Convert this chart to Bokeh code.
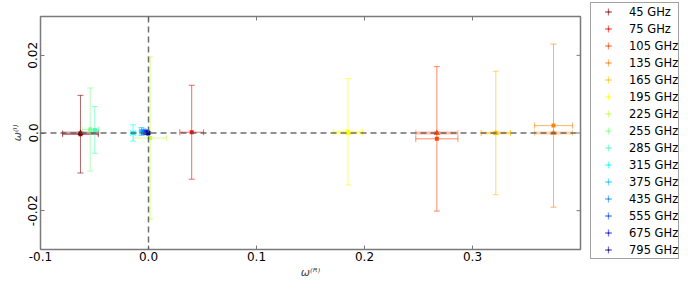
from bokeh.plotting import figure
from bokeh.models import (ColumnDataSource, Whisker, TeeHead, Span, Legend, LegendItem,
                          FixedTicker, Range1d)
from bokeh.embed import file_html
from bokeh.resources import INLINE

# ---------------- data ----------------
freq_labels = ["45 GHz", "75 GHz", "105 GHz", "135 GHz", "165 GHz", "195 GHz", "225 GHz",
               "255 GHz", "285 GHz", "315 GHz", "375 GHz", "435 GHz", "555 GHz",
               "675 GHz", "795 GHz"]

# estimated points (one per frequency)
est_x = [-0.063, 0.040, 0.267, 0.375, 0.3216, 0.1847, 0.0015,
         -0.054, -0.0497, -0.0143, -0.0065, -0.0045, -0.0025, -0.0010, -0.0002]
est_y = [-0.0003, 0.0002, -0.0015, 0.0019, 0.0, 0.0003, -0.0013,
         0.0009, 0.0008, 0.0, 0.0004, 0.0003, 0.0002, 0.0001, 0.0]
est_xerr = [0.0165, 0.0110, 0.0195, 0.0176, 0.0136, 0.0136, 0.0153,
            0.0074, 0.0040, 0.0025, 0.0020, 0.0020, 0.0015, 0.0010, 0.0008]
est_yerr = [0.0100, 0.0121, 0.0186, 0.0210, 0.0159, 0.0137, 0.0209,
            0.0107, 0.0060, 0.0021, 0.0010, 0.0007, 0.0005, 0.0003, 0.0002]

# reference points lying on the omega_I = 0 line
ref_freq = ["45 GHz", "105 GHz", "135 GHz", "165 GHz", "195 GHz"]
ref_x = [-0.063, 0.267, 0.375, 0.3216, 0.1847]
ref_y = [0.0, 0.0, 0.0, 0.0, 0.0]
ref_xerr = [0.0165, 0.0195, 0.0176, 0.0136, 0.0136]
ref_yerr = [0.0003, 0.0003, 0.0003, 0.0003, 0.0003]

x_limits = [-0.1, 0.4]
y_limits = [-0.03, 0.03]
x_ticks = [-0.1, 0.0, 0.1, 0.2, 0.3]
x_tick_labels = ["-0.1", "0.0", "0.1", "0.2", "0.3"]
y_ticks = [-0.02, 0.0, 0.02]
y_tick_labels = ["-0.02", "0.0", "0.02"]

# ---------------- style ----------------
colors = ["#800000", "#ff0000", "#ff4000", "#ff8000", "#ffbf00", "#ffff00", "#bfff40",
          "#80ff80", "#40ffbf", "#00ffff", "#00bfff", "#0080ff", "#0040ff",
          "#0000ff", "#00008b"]
color_of = dict(zip(freq_labels, colors))
FRAME = "#7a7a7a"

p = figure(frame_width=540, frame_height=233,
           x_range=Range1d(*x_limits), y_range=Range1d(*y_limits),
           output_backend="svg", toolbar_location=None,
           min_border_left=40, min_border_right=108, min_border_top=16, min_border_bottom=40)
p.xgrid.visible = False
p.ygrid.visible = False
p.outline_line_color = FRAME
p.outline_line_width = 1.5
p.background_fill_color = "white"

xa = p.xaxis[0]
ya = p.yaxis[0]
for ax, ticks, labels in ((xa, x_ticks, x_tick_labels), (ya, y_ticks, y_tick_labels)):
    ax.ticker = FixedTicker(ticks=ticks)
    ax.major_label_overrides = {t: l for t, l in zip(ticks, labels)}
    ax.major_tick_in = 4
    ax.major_tick_out = 0
    ax.major_tick_line_color = FRAME
    ax.minor_tick_line_color = None
    ax.axis_line_color = None
    ax.major_label_text_font = "DejaVu Sans"
    ax.major_label_text_color = "black"
    ax.major_label_text_font_size = "12px"
    ax.axis_label_text_font = "DejaVu Sans"
    ax.axis_label_text_font_style = "italic"
    ax.axis_label_text_font_size = "11px"
    ax.axis_label_standoff = 2
xa.major_label_standoff = 2
ya.major_label_standoff = 3
ya.major_label_orientation = "vertical"
xa.axis_label = "ω⁽ᴿ⁾"
ya.axis_label = "ω⁽ᴵ⁾"

# inward tick marks on the top and right frame edges
p.scatter(x=x_ticks, y=[y_limits[1]] * len(x_ticks), marker="dash", angle=1.5708,
          size=8, line_color=FRAME, line_width=1)
p.scatter(x=[x_limits[1]] * len(y_ticks), y=y_ticks, marker="dash",
          size=8, line_color=FRAME, line_width=1)


def draw_point(x, y, xe, ye, c, bar_alpha, bar_width, marker, msize):
    src = ColumnDataSource(dict(x=[x], y=[y], xl=[x - xe], xu=[x + xe],
                                yl=[y - ye], yu=[y + ye]))
    for dim, base, lo, hi in (("height", "x", "yl", "yu"), ("width", "y", "xl", "xu")):
        w = Whisker(source=src, base=base, lower=lo, upper=hi, dimension=dim,
                    line_color=c, line_alpha=bar_alpha,
                    line_width=(bar_width if dim == "width" else 1),
                    upper_head=TeeHead(size=6, line_color=c, line_alpha=bar_alpha, line_width=1),
                    lower_head=TeeHead(size=6, line_color=c, line_alpha=bar_alpha, line_width=1))
        p.add_layout(w)
    p.scatter("x", "y", source=src, marker=marker, size=msize, fill_color=c,
              line_color=None, fill_alpha=0.95)
    return src


# reference points (thick translucent bars)
for f, x, y, xe, ye in zip(ref_freq, ref_x, ref_y, ref_xerr, ref_yerr):
    draw_point(x, y, xe, ye, color_of[f], 0.35, 3, "triangle", 6)

# estimated points; zero-size markers on the same data serve as legend glyphs
items = []
for f, x, y, xe, ye in zip(freq_labels, est_x, est_y, est_xerr, est_yerr):
    c = color_of[f]
    src = draw_point(x, y, xe, ye, c, 0.6, 1, "square", 4)
    rc = p.scatter("x", "y", source=src, marker="cross", size=0, line_color=c,
                   line_alpha=0.55, line_width=1.3)
    rd = p.scatter("x", "y", source=src, marker="dot", size=0, line_color=c,
                   fill_color=c, line_alpha=1.0, line_width=1.5)
    items.append(LegendItem(label=f, renderers=[rc, rd]))

# dashed zero lines
for dim in ("width", "height"):
    p.add_layout(Span(location=0, dimension=dim, line_color="#555555", line_alpha=0.85,
                      line_dash="6 4", line_width=1.5))

legend = Legend(items=items, location=(10, -10), orientation="vertical",
                label_text_font="DejaVu Sans", label_text_font_size="11.5px",
                label_text_color="black", label_text_align="right",
                glyph_width=34, glyph_height=17, label_height=17, spacing=0,
                padding=0, margin=0, label_standoff=4,
                border_line_color="#444444", border_line_width=1,
                background_fill_color="white", background_fill_alpha=1.0)
p.add_layout(legend, "right")

open("out.html", "w").write(file_html(p, INLINE))
